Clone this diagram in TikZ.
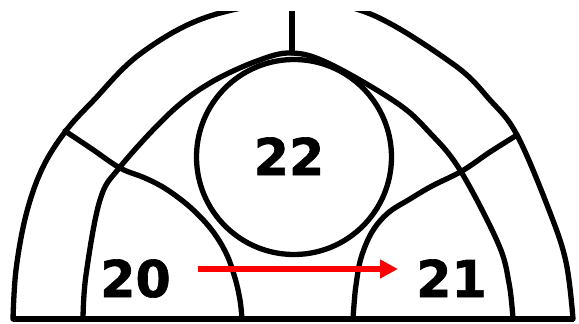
\documentclass[tikz,border=0pt]{standalone}
\usepackage{fontspec}
\setmainfont{DejaVu Sans}
\newfontfamily\heavyfont{DejaVu Sans}[BoldFeatures={FakeBold=1.2}]
\usetikzlibrary{arrows.meta}
\tikzset{
  ln/.style={line width=5.3pt, line cap=round, line join=round, black},
  baseln/.style={line width=6.5pt, black},
  redarrow/.style={line width=6pt, red, -{Triangle[length=18pt,width=18pt]}},
  lbl/.style={inner sep=0pt, anchor=base, font=\heavyfont\fontsize{50.7}{60}\selectfont\bfseries}
}
\begin{document}
\begin{tikzpicture}[x=1pt,y=-1pt]
\useasboundingbox (0,0) rectangle (579,324);
\fill[white] (0,0) rectangle (579,324);
\begin{scope}
\clip (0,11) rectangle (579,324);
% outer arc
\draw[ln] plot[smooth, tension=0.6] coordinates {(13,319) (16,270) (26,215) (42,169) (65,132) (93,101) (140,54) (207,17) (293,2) (368,13) (453,64) (490,100) (517,135) (549,210) (566,262) (573,319)};
% middle arc
\draw[ln] plot[smooth, tension=0.6] coordinates {(83,319) (86,275) (100,200) (120,167) (170,113) (210,83) (257,61) (292,53) (330,64) (397,103) (430,133) (460,170) (498,243) (509,283) (513,319)};
% top vertical divider
\coordinate (vtop) at (292,0);
\coordinate (vbot) at (292,53);
\draw[ln] (vtop) -- (vbot);
% left divider
\draw[ln] plot[smooth, tension=0.6] coordinates {(65,131) (92,149) (120,168) (145,178) (166,189) (190,207) (211,229) (226,253) (235,278) (240,300) (242,319)};
% right divider
\draw[ln] plot[smooth, tension=0.6] coordinates {(517,135) (490,152) (462,171) (432,186) (410,199) (388,213) (372,232) (361,258) (356,285) (354,305) (353,319)};
% circle
\draw[ln] (294,157) circle[radius=97.5pt];
\end{scope}
% baseline
\coordinate (bl) at (13,319);
\coordinate (br) at (574,319);
\draw[baseln] (bl) -- (br);
% labels
\node[lbl] (n22) at (289,175) {22};
\node[lbl] (n20) at (135.5,297) {20};
\node[lbl] (n21) at (451.5,297) {21};
% arrow
\coordinate (arrS) at (198,269);
\coordinate (arrE) at (398,269);
\draw[redarrow] (arrS) -- (arrE);
\end{tikzpicture}
\end{document}
